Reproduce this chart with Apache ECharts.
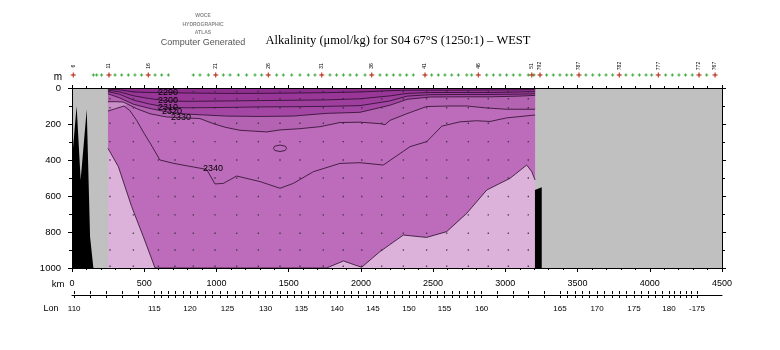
<!DOCTYPE html>
<html><head><meta charset="utf-8">
<script src="https://cdn.jsdelivr.net/npm/echarts@6/dist/echarts.min.js"></script>
<style>html,body{margin:0;padding:0;background:#fff}#c{width:780px;height:350px}</style>
</head><body><div id="c"></div>
<script>
// ===== DATA (distance along section in km, depth in m) =====
const sectionKm = [249, 3206];               // sampled part of the section

// iso-lines of alkalinity, [km, depth]
const iso2290 = [[249,6],[330,10],[425,22],[530,25],[658,26],[800,28],[1070,30],[1300,30],[1530,28],[1760,26],[1994,22],[2200,15],[2320,12],[2480,12],[2700,12],[2900,11],[3100,10],[3206,9]];
const iso2300 = [[249,12],[330,22],[425,43],[530,58],[658,72],[800,74],[1070,72],[1300,70],[1530,68],[1760,66],[1994,60],[2200,44],[2320,30],[2480,25],[2700,25],[2900,25],[3100,22],[3206,20]];
const iso2310 = [[249,20],[330,35],[425,67],[530,88],[658,107],[800,110],[1070,108],[1300,105],[1530,104],[1760,102],[1994,98],[2200,72],[2320,45],[2480,37],[2700,36],[2900,36],[3100,34],[3206,32]];
const iso2320 = [[249,32],[330,55],[425,90],[530,112],[658,133],[800,145],[1070,156],[1300,158],[1530,156],[1760,141],[1994,135],[2200,96],[2320,63],[2480,50],[2700,49],[2900,49],[3100,45],[3206,41]];
const iso2330 = [[249,76],[300,76],[355,78],[448,115],[540,143],[656,161],[886,170],[978,198],[1060,218],[1163,235],[1348,244],[1440,233],[1578,226],[1717,215],[1855,192],[1994,190],[2132,198],[2167,204],[2201,180],[2317,143],[2455,103],[2617,100],[2733,100],[2871,111],[3009,118],[3206,118]];
const iso2340 = [[249,128],[300,115],[360,100],[400,125],[448,180],[494,245],[540,305],[609,400],[700,418],[800,433],[932,452],[990,533],[1048,530],[1140,489],[1302,520],[1440,557],[1532,530],[1671,465],[1855,419],[1994,415],[2155,428],[2340,326],[2455,298],[2500,262],[2560,212],[2686,188],[2800,182],[2894,186],[3009,166],[3206,150]];
const iso2340Closed = [[1394,335],[1404,323],[1440,317],[1476,323],[1486,335],[1476,347],[1440,353],[1404,347],[1394,335]];
const iso2350 = [[249,335],[321,437],[413,659],[494,826],[575,1000],[1763,1000],[1879,961],[2005,996],[2132,909],[2294,817],[2455,830],[2594,798],[2733,696],[2871,567],[3032,502],[3148,428],[3183,465],[3206,511]];
const pocketEdge = [[249,128],[300,115],[360,100],[385,90]];

// bottom topography
const bathyLeft = [[0,400],[32,100],[60,511],[102,118],[125,826],[148,1000]];
const bathyRight = [[3205,567],[3252,552]];

// sample positions
const sampleKm = [263,425,598,713,840,990,1140,1290,1440,1578,1740,1878,2006,2144,2294,2455,2594,2744,2882,3021,3159];
const sampleDepth = [20,60,110,196,298,400,500,603,705,807,900,990];

// contour labels
const contourLabels = ['2290','2300','2310','2320','2330','2340'];
const contourLabelKm = [665,665,665,692,755,976];
const contourLabelDepth = [26,72,107,133,165,447];

// stations
const stationKm = [9,148,171,205,256,298,344,390,436,482,528,575,621,667,840,886,944,995,1048,1094,1152,1209,1267,1313,1359,1417,1463,1521,1578,1636,1682,1729,1786,1832,1879,1925,1971,2029,2075,2132,2179,2225,2271,2317,2363,2444,2490,2536,2582,2629,2675,2733,2767,2813,2871,2917,2963,3009,3055,3101,3159,3183,3198,3240,3286,3332,3378,3425,3459,3510,3558,3605,3651,3697,3743,3789,3835,3882,3928,3974,4013,4059,4110,4156,4202,4248,4294,4341,4394,4452];
const stationLabelKm = [9,256,528,995,1359,1729,2075,2444,2813,3183,3240,3510,3789,4059,4341,4452];
const stationLabels = ['6','11','16','21','26','31','36','41','46','51','792','787','782','777','772','767'];

// longitude axis
const lonLabels = ['110','115','120','125','130','135','140','145','150','155','160','165','170','175','180','-175'];
const lonKm = [15,570,817,1076,1340,1588,1835,2084,2333,2579,2836,3378,3635,3891,4133,4327];

// ===== COLOURS =====
const cLight = '#DCB2DA', cMed = '#BC6CBA', cPocket = '#C98FC7';
const c2320_30 = '#B462B2', c2310_20 = '#A447A4', c2300_10 = '#9E3F9E', c2290_00 = '#983798', cLt2290 = '#902E90';
const lineColor = '#2a0c2a';

// degree ticks of the longitude axis placed between the labelled longitudes
const lonTickKm = [];
for (let i = 0; i < lonKm.length - 1; i++) {
  for (let d = 0; d < 5; d++) lonTickKm.push(lonKm[i] + (lonKm[i+1] - lonKm[i]) * d / 5);
}
lonTickKm.push(lonKm[lonKm.length - 1]);

let zc = 1;
function layer(pts, fill, origin, stroke) {
  const s = {type:'line', data: pts, xAxisIndex:0, yAxisIndex:0, symbol:'none', silent:true, animation:false, z: zc++,
    lineStyle: stroke ? {color: lineColor, width: 0.8} : {color:'rgba(0,0,0,0)', width: 0.1, opacity: 0}};
  if (fill) s.areaStyle = {color: fill, opacity: 1, origin: origin};
  return s;
}

const dots = [];
sampleKm.forEach(k => sampleDepth.forEach(d => dots.push([k, d])));

const series = [
  layer([[sectionKm[0],1000],[sectionKm[1],1000]], cLight, 'start', false),
  layer(iso2350, cMed, 'start', true),
  layer(pocketEdge, cPocket, 'start', false),
  layer(iso2340, null, 'start', true),
  layer(iso2340Closed, null, 'start', true),
  layer(iso2330, c2320_30, 'start', true),
  layer(iso2320, c2310_20, 'start', true),
  layer(iso2310, c2300_10, 'start', true),
  layer(iso2300, c2290_00, 'start', true),
  layer(iso2290, cLt2290, 'start', true),
  layer(bathyLeft, '#000', 'end', false),
  layer(bathyRight, '#000', 'end', false),
  {type:'scatter', data: dots, symbol:'rect', symbolSize:1.4, itemStyle:{color:'#2a2a2a'}, silent:true, animation:false, z: 30},
  {type:'custom', clip:false, silent:true, animation:false, z: 31,
    data: contourLabelKm.map((k,i) => [k, contourLabelDepth[i]]),
    renderItem: (params, api) => {
      const p = api.coord([api.value(0), api.value(1)]);
      return {type:'text', x:p[0], y:p[1], style:{text: contourLabels[params.dataIndex], font:'9px "Liberation Sans", Arial', fill:'#000', align:'center', verticalAlign:'middle'}};
    }},
  // station markers (green)
  {type:'custom', clip:false, silent:true, animation:false, z: 32,
    data: stationKm.map(k => [k, 0]),
    renderItem: (params, api) => {
      const p = api.coord([api.value(0), 0]); const y = p[1] - 13; const s = 1.6;
      const st = {stroke:'#3aa83a', lineWidth:1};
      return {type:'group', children:[
        {type:'line', shape:{x1:p[0]-s, y1:y, x2:p[0]+s, y2:y}, style:st},
        {type:'line', shape:{x1:p[0], y1:y-s, x2:p[0], y2:y+s}, style:st}]};
    }},
  // labelled stations (red) with rotated numbers
  {type:'custom', clip:false, silent:true, animation:false, z: 33,
    data: stationLabelKm.map(k => [k, 0]),
    renderItem: (params, api) => {
      const p = api.coord([api.value(0), 0]); const y = p[1] - 13; const s = 2.6;
      const st = {stroke:'#d83030', lineWidth:1};
      return {type:'group', children:[
        {type:'line', shape:{x1:p[0]-s, y1:y, x2:p[0]+s, y2:y}, style:st},
        {type:'line', shape:{x1:p[0], y1:y-s, x2:p[0], y2:y+s}, style:st},
        {type:'text', x:p[0], y:y-9, rotation: Math.PI/2,
          style:{text: stationLabels[params.dataIndex], font:'5px "Liberation Sans", Arial', fill:'#000', align:'center', verticalAlign:'middle'}}]};
    }}
];

const plain = v => String(v);

const axisCommon = {type:'value', min:0, max:4500, interval:500, z:50,
  axisLine:{show:true, onZero:false, lineStyle:{color:'#000', width:1}},
  axisTick:{show:true, length:4, lineStyle:{color:'#000', width:1}},
  minorTick:{show:true, splitNumber:5, length:2, lineStyle:{color:'#000', width:1}},
  splitLine:{show:false}, minorSplitLine:{show:false}};

const yCommon = {type:'value', inverse:true, min:0, max:1000, interval:200, z:50,
  axisLine:{show:true, onZero:false, lineStyle:{color:'#000', width:1}},
  axisTick:{show:true, length:4, lineStyle:{color:'#000', width:1}},
  minorTick:{show:true, splitNumber:2, length:3, lineStyle:{color:'#000', width:1}},
  splitLine:{show:false}, minorSplitLine:{show:false}};

const option = {
  animation:false,
  backgroundColor:'#fff',
  grid:[
    {left:72, top:88, width:650, height:180, show:true, backgroundColor:'#C0C0C0', borderWidth:0},
    {left:72, top:294, width:650, height:1, show:false}
  ],
  xAxis:[
    Object.assign({}, axisCommon, {gridIndex:0, position:'bottom',
      axisLabel:{show:true, fontSize:9, fontFamily:'Liberation Sans', color:'#000', margin:11, formatter: plain}}),
    Object.assign({}, axisCommon, {gridIndex:0, position:'top', axisLabel:{show:false},
      axisTick:{show:true, length:3, lineStyle:{color:'#000'}}, minorTick:{show:true, splitNumber:5, length:2, lineStyle:{color:'#000'}}}),
    {type:'value', gridIndex:1, position:'bottom', min:0, max:4500, z:50,
      axisLine:{show:true, onZero:false, lineStyle:{color:'#000', width:1}},
      axisTick:{show:true, length:3, customValues: lonTickKm, lineStyle:{color:'#000', width:1}},
      axisLabel:{show:true, customValues: lonKm, fontSize:8, fontFamily:'Liberation Sans', color:'#000', margin:10,
        formatter: v => lonLabels[lonKm.indexOf(v)]},
      splitLine:{show:false}},
    {type:'value', gridIndex:1, position:'top', min:0, max:4500, z:50,
      axisLine:{show:false, onZero:false},
      axisTick:{show:true, length:3, customValues: lonTickKm, lineStyle:{color:'#000', width:1}},
      axisLabel:{show:false}, splitLine:{show:false}}
  ],
  yAxis:[
    Object.assign({}, yCommon, {gridIndex:0, position:'left',
      axisLabel:{show:true, fontSize:9.5, fontFamily:'Liberation Sans', color:'#000', margin:11, formatter: plain}}),
    Object.assign({}, yCommon, {gridIndex:0, position:'right', axisLabel:{show:false}}),
    {type:'value', gridIndex:1, min:0, max:1, show:false}
  ],
  graphic:[
    {type:'text', x:203, y:16, style:{text:'WOCE', font:'bold 5px "Liberation Sans", Arial', fill:'#8a8a8a', align:'center', verticalAlign:'middle'}},
    {type:'text', x:203, y:24.5, style:{text:'HYDROGRAPHIC', font:'bold 5px "Liberation Sans", Arial', fill:'#8a8a8a', align:'center', verticalAlign:'middle'}},
    {type:'text', x:203, y:33, style:{text:'ATLAS', font:'bold 5px "Liberation Sans", Arial', fill:'#8a8a8a', align:'center', verticalAlign:'middle'}},
    {type:'text', x:203, y:43, style:{text:'Computer Generated', font:'9px "Liberation Sans", Arial', fill:'#555', align:'center', verticalAlign:'middle'}},
    {type:'text', x:398, y:41, style:{text:'Alkalinity (\u03bcmol/kg) for S04 67\u00b0S (1250:1) \u2013 WEST', font:'12.5px "Liberation Serif", serif', fill:'#000', align:'center', verticalAlign:'middle'}},
    {type:'text', x:58, y:77, style:{text:'m', font:'10px "Liberation Sans", Arial', fill:'#000', align:'center', verticalAlign:'middle'}},
    {type:'text', x:58, y:284, style:{text:'km', font:'9.5px "Liberation Sans", Arial', fill:'#000', align:'center', verticalAlign:'middle'}},
    {type:'text', x:51, y:309, style:{text:'Lon', font:'9px "Liberation Sans", Arial', fill:'#000', align:'center', verticalAlign:'middle'}}
  ],
  series: series
};

const chart = echarts.init(document.getElementById('c'), null, {renderer:'canvas', width:780, height:350});
chart.setOption(option);
</script>
</body></html>
